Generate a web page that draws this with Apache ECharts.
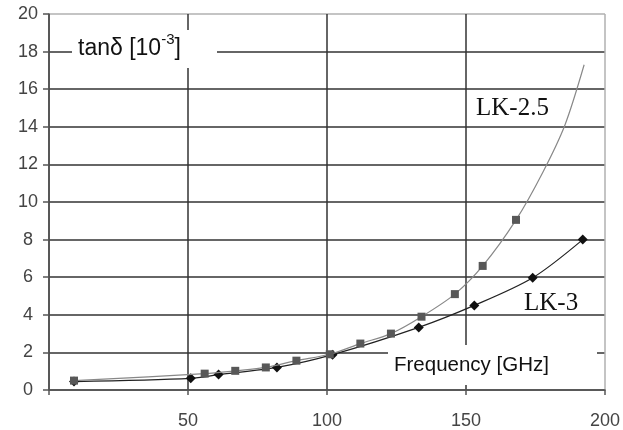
<!DOCTYPE html>
<html><head><meta charset="utf-8">
<script src="https://cdn.jsdelivr.net/npm/echarts@6/dist/echarts.min.js"></script>
<style>html,body{margin:0;padding:0;background:#fff}#c{width:623px;height:430px}</style>
</head><body><div id="c"></div>
<script>
// X axis (Frequency, GHz) and Y axis (tan delta, 10^-3) ticks
const xTicks = [0, 50, 100, 150, 200];
const yTicks = [0, 2, 4, 6, 8, 10, 12, 14, 16, 18, 20];

// LK-2.5: measured points (squares) and fitted curve continuation (no marker)
const lk25Freq = [9, 56, 67, 78, 89, 101, 112, 123, 134, 146, 156, 168, 177.7, 185.6, 192.5];
const lk25Tan  = [0.5, 0.87, 1.02, 1.2, 1.56, 1.9, 2.47, 3.0, 3.9, 5.1, 6.6, 9.05, 11.6, 14.1, 17.3];
const lk25Measured = [true, true, true, true, true, true, true, true, true, true, true, true, false, false, false];

// LK-3: measured points (diamonds)
const lk3Freq = [9, 51, 61, 82, 102, 133, 153, 174, 192];
const lk3Tan  = [0.45, 0.62, 0.82, 1.2, 1.88, 3.33, 4.5, 5.97, 8.0];

const seriesNames = ['LK-2.5', 'LK-3'];
const yAxisTitle = 'tanδ [10';
const yAxisExp = '-3';
const xAxisTitle = 'Frequency [GHz]';

const chart = echarts.init(document.getElementById('c'), null, {renderer: 'canvas'});

const lk25Data = lk25Freq.map((f, i) => lk25Measured[i]
  ? [f, lk25Tan[i]]
  : {value: [f, lk25Tan[i]], symbol: 'none'});
const lk3Data = lk3Freq.map((f, i) => [f, lk3Tan[i]]);

const gridDark = '#333';
const gridLight = '#b0b0b0';
const sans = 'Liberation Sans, Arial, sans-serif';
const serif = 'Liberation Serif, Times New Roman, serif';

chart.setOption({
  animation: false,
  backgroundColor: '#fff',
  grid: {left: 49, right: 18, top: 14, bottom: 39, show: false},
  xAxis: {
    type: 'value', min: xTicks[0], max: xTicks[xTicks.length - 1], interval: 50,
    axisLine: {show: true, lineStyle: {color: '#555', width: 1.5}},
    axisTick: {show: true, length: 5, lineStyle: {color: '#555', width: 1.5}},
    axisLabel: {show: true, margin: 22, fontSize: 18, color: '#444', fontFamily: sans,
      formatter: v => (v === 0 ? '' : String(v))},
    splitLine: {show: true, lineStyle: {color: [gridDark, gridDark, gridDark, gridDark, gridLight], width: 1.5}}
  },
  yAxis: {
    type: 'value', min: yTicks[0], max: yTicks[yTicks.length - 1], interval: 2,
    axisLine: {show: true, lineStyle: {color: '#555', width: 1.5}},
    axisTick: {show: true, length: 6, lineStyle: {color: '#555', width: 1.5}},
    axisLabel: {show: true, margin: 21, align: 'center', fontSize: 18, color: '#444', fontFamily: sans},
    splitLine: {show: true, lineStyle: {color: [gridDark, gridDark, gridDark, gridDark, gridDark, gridDark, gridDark, gridDark, gridDark, gridDark, gridLight], width: 1.5}}
  },
  series: [
    {
      name: seriesNames[1], type: 'line', data: lk3Data, smooth: 0.3, z: 3,
      symbol: 'diamond', symbolSize: 10,
      lineStyle: {color: '#222', width: 1.2},
      itemStyle: {color: '#111'}
    },
    {
      name: seriesNames[0], type: 'line', data: lk25Data, smooth: 0.3, z: 4,
      symbol: 'rect', symbolSize: 8,
      lineStyle: {color: '#888', width: 1.2},
      itemStyle: {color: '#585858'}
    }
  ],
  graphic: [
    {type: 'rect', z: 100, shape: {x: 72, y: 30, width: 145, height: 38}, style: {fill: '#fff'}},
    {type: 'text', z: 101, left: 78, top: 32, style: {
      text: '{n|' + yAxisTitle + '}{s|' + yAxisExp + '}{n|]}',
      rich: {
        n: {fontSize: 23, fontFamily: sans, fill: '#111', verticalAlign: 'bottom', lineHeight: 28},
        s: {fontSize: 15, fontFamily: sans, fill: '#111', verticalAlign: 'top', lineHeight: 28}
      }
    }},
    {type: 'rect', z: 100, shape: {x: 388, y: 345, width: 209, height: 40}, style: {fill: '#fff'}},
    {type: 'text', z: 101, left: 394, top: 355, style: {
      text: xAxisTitle, fontSize: 20.5, fontFamily: sans, fill: '#111'
    }},
    {type: 'text', z: 101, left: 476, top: 96, style: {
      text: seriesNames[0], fontSize: 25, fontFamily: serif, fill: '#111'
    }},
    {type: 'text', z: 101, left: 524, top: 291, style: {
      text: seriesNames[1], fontSize: 25, fontFamily: serif, fill: '#111'
    }}
  ]
});
</script>
</body></html>
